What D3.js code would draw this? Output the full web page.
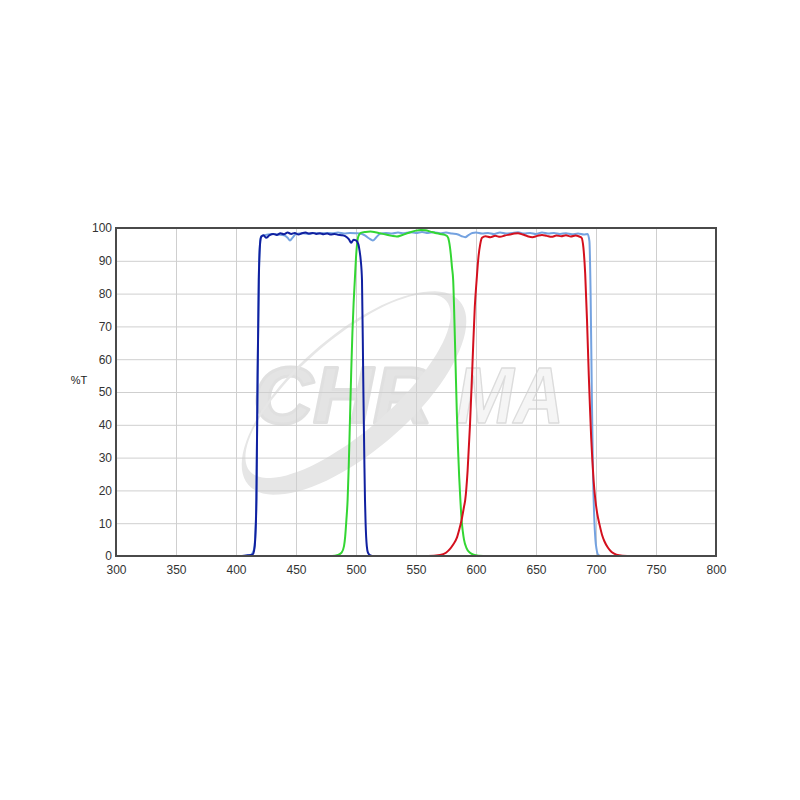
<!DOCTYPE html>
<html>
<head>
<meta charset="utf-8">
<script src="https://cdn.jsdelivr.net/npm/d3@7"></script>
<style>
  html, body { margin: 0; padding: 0; background: #fff; }
  svg { display: block; }
</style>
</head>
<body>
<script>
// ---------- Data ----------
const xTicks = [300, 350, 400, 450, 500, 550, 600, 650, 700, 750, 800];
const yTicks = [0, 10, 20, 30, 40, 50, 60, 70, 80, 90, 100];

const lightBlueWl = [300,405,412,415,416,417,418,419,420,421,425,430,435,440,443,445,447,450,455,460,465,470,475,480,485,490,495,500,505,508,511,514,517,520,525,530,535,540,545,550,555,560,565,570,575,580,585,588,591,594,597,600,605,610,615,620,625,630,635,640,645,650,655,660,665,670,675,680,685,690,693,694.5,695.5,696.5,697.5,698.5,699.5,700.5,702,705,800];
const lightBlueT  = [0,0,0.3,2,6,18,55,85,95,97.5,97.9,98.2,98.0,97.8,97.0,96.2,97.0,98.2,98.4,98.2,98.5,98.3,98.5,98.4,98.6,98.3,98.5,98.4,98.2,97.6,96.8,96.2,97.2,98.2,98.5,98.3,98.6,98.4,98.7,98.5,98.8,98.5,98.7,98.4,98.6,98.3,98.0,97.5,97.2,97.9,98.5,98.6,98.3,98.5,98.2,98.6,98.3,98.5,98.7,98.3,98.5,98.2,98.6,98.3,98.5,98.2,98.4,98.1,98.3,98.0,98.2,96,80,50,25,12,5,2,0.3,0,0];

const greenWl = [300,480,485,488,490,491,492,493,494,495,496,497,498,499,500,501,502,504,508,512,516,520,525,530,534,538,542,546,550,554,558,562,566,570,574,576,577.5,579,580,581,582,583,584,585,586,587,588,589,590,592,595,598,602,610,800];
const greenT  = [0,0,0.3,1,3,6,11,17,28,42,56,68,77,84,91,95.5,97.5,98.5,98.8,98.9,98.7,98.4,98.0,97.6,97.4,97.8,98.3,98.8,99.2,99.4,99.3,98.9,98.5,98.2,97.9,97.5,96,92,88,84,72,58,44,33,24,17,11,7.5,5,2.5,1,0.4,0.1,0,0];

const redWl = [300,560,570,575,578,581,584,586,588,590,591,593,595,597,599,600.5,602,603.5,605,608,612,616,620,624,628,632,635,639,643,647,651,655,659,663,667,671,675,679,683,686,688,689.5,691,692.5,694,695,696,697,698,699.5,701,703,705,707,710,713,717,722,730,800];
const redT  = [0,0,0.3,1,2,3.5,5.5,8,11,15,17,26,40,58,76,84,91,95,97,97.5,97.2,97.6,97.3,97.7,98.0,98.3,98.4,98.0,97.5,97.2,97.6,97.9,97.6,97.3,97.7,97.5,97.8,97.4,97.7,97.4,97.0,94,86,72,55,45,36,29,23,17,13,9.5,6.5,4.5,2.5,1.2,0.4,0.1,0,0];

const darkBlueWl = [300,405,410,414,415,416,417,418,419,420,421,423,425,428,431,434,437,440,443,446,449,452,455,458,461,464,467,470,473,476,479,482,485,488,491,494,496,498,500,502,503,504,505,506,507,507.5,508,509,510,512,515,800];
const darkBlueT  = [0,0,0.2,0.5,1.5,5,17,55,84,95,97.3,97.8,97.0,97.8,98.2,97.9,98.4,98.1,98.6,98.2,98.5,98.0,98.4,98.6,98.3,98.5,98.2,98.4,98.1,98.3,98.0,98.2,97.9,97.8,97.5,96.6,95.5,96.4,96.2,95,93,90,84,55,28,17,10,3,1,0.2,0,0];

const seriesNames  = ["lightBlue", "green", "red", "darkBlue"];
const seriesColors = ["#74a2e0", "#33d633", "#d4101e", "#1020a0"];
const seriesWl = [lightBlueWl, greenWl, redWl, darkBlueWl];
const seriesT  = [lightBlueT, greenT, redT, darkBlueT];

// ---------- Layout ----------
const W = 800, H = 800;
const mLeft = 116, mRight = 716, mTop = 228, mBottom = 556;

const svg = d3.select("body").append("svg").attr("width", W).attr("height", H);
svg.append("rect").attr("width", W).attr("height", H).attr("fill", "#fff");

const x = d3.scaleLinear().domain([300, 800]).range([mLeft, mRight]);
const y = d3.scaleLinear().domain([0, 100]).range([mBottom, mTop]);

// ---------- Watermark ----------
const wm = svg.append("g").attr("class", "watermark");
function ellipsePath(cx, cy, rx, ry, rot) {
  const pts = [];
  const a = rot * Math.PI / 180;
  for (let i = 0; i <= 90; i++) {
    const t = i / 90 * 2 * Math.PI;
    const ex = rx * Math.cos(t), ey = ry * Math.sin(t);
    pts.push([cx + ex * Math.cos(a) - ey * Math.sin(a), cy + ex * Math.sin(a) + ey * Math.cos(a)]);
  }
  return "M" + pts.map(p => p[0].toFixed(1) + "," + p[1].toFixed(1)).join("L") + "Z";
}
wm.append("text")
  .attr("x", 253).attr("y", 423)
  .attr("font-family", "Liberation Sans, Arial, sans-serif")
  .attr("font-weight", "bold").attr("font-style", "italic")
  .attr("font-size", 80)
  .attr("textLength", 180).attr("lengthAdjust", "spacingAndGlyphs")
  .attr("fill", "#e4e4e4").attr("stroke", "#e0e0e0").attr("stroke-width", 3)
  .attr("stroke-linejoin", "round")
  .text("CHR");
wm.append("text")
  .attr("x", 456).attr("y", 423)
  .attr("font-family", "Liberation Sans, Arial, sans-serif")
  .attr("font-weight", "bold").attr("font-style", "italic")
  .attr("font-size", 80)
  .attr("textLength", 108).attr("lengthAdjust", "spacingAndGlyphs")
  .attr("fill", "#f5f5f5").attr("stroke", "#dcdcdc").attr("stroke-width", 1.5)
  .attr("stroke-linejoin", "round")
  .text("MA");
wm.append("path")
  .attr("d", ellipsePath(354, 393, 140, 58, -41) + ellipsePath(348, 386, 130, 46, -41))
  .attr("fill", "#e6e6e6")
  .attr("fill-rule", "evenodd");

// ---------- Grid ----------
svg.append("g")
  .attr("transform", `translate(0,${mBottom})`)
  .call(d3.axisBottom(x).tickValues(xTicks).tickSize(-(mBottom - mTop)).tickFormat(""))
  .call(g => g.select(".domain").remove())
  .call(g => g.selectAll("line").attr("stroke", "#cfcfcf").attr("stroke-width", 1));
svg.append("g")
  .attr("transform", `translate(${mLeft},0)`)
  .call(d3.axisLeft(y).tickValues(yTicks).tickSize(-(mRight - mLeft)).tickFormat(""))
  .call(g => g.select(".domain").remove())
  .call(g => g.selectAll("line").attr("stroke", "#cfcfcf").attr("stroke-width", 1));

// ---------- Curves ----------
const line = d3.line()
  .x(d => x(d[0]))
  .y(d => y(d[1]))
  .curve(d3.curveMonotoneX);

seriesNames.forEach((name, i) => {
  const data = seriesWl[i].map((w, j) => [w, seriesT[i][j]]);
  svg.append("path")
    .datum(data)
    .attr("class", "curve-" + name)
    .attr("fill", "none")
    .attr("stroke", seriesColors[i])
    .attr("stroke-width", 2)
    .attr("stroke-linejoin", "round")
    .attr("d", line);
});

// ---------- Frame ----------
svg.append("rect")
  .attr("x", mLeft).attr("y", mTop)
  .attr("width", mRight - mLeft).attr("height", mBottom - mTop)
  .attr("fill", "none").attr("stroke", "#4a4a4a").attr("stroke-width", 2);

// ---------- Axes labels ----------
svg.append("g")
  .attr("transform", `translate(0,${mBottom})`)
  .call(d3.axisBottom(x).tickValues(xTicks).tickSize(0).tickPadding(9.5).tickFormat(d3.format("d")))
  .call(g => g.select(".domain").remove())
  .call(g => g.selectAll("text")
    .attr("font-family", "Liberation Sans, Arial, sans-serif")
    .attr("font-size", 12).attr("fill", "#333"));
svg.append("g")
  .attr("transform", `translate(${mLeft},0)`)
  .call(d3.axisLeft(y).tickValues(yTicks).tickSize(0).tickPadding(4).tickFormat(d3.format("d")))
  .call(g => g.select(".domain").remove())
  .call(g => g.selectAll("text")
    .attr("font-family", "Liberation Sans, Arial, sans-serif")
    .attr("font-size", 12).attr("fill", "#333"));

svg.append("text")
  .attr("x", 79).attr("y", 384)
  .attr("text-anchor", "middle")
  .attr("font-family", "Liberation Sans, Arial, sans-serif")
  .attr("font-size", 11).attr("fill", "#222")
  .text("%T");
</script>
</body>
</html>
